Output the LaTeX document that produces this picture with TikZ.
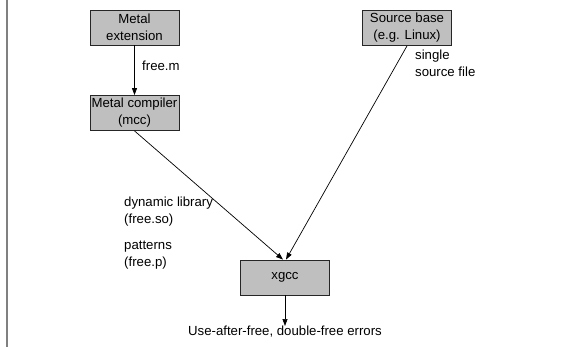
\documentclass[tikz,border=0pt]{standalone}
\usepackage{fontspec}
\setmainfont{Liberation Sans}
\usetikzlibrary{arrows.meta}

\begin{document}
\begin{tikzpicture}[x=1pt, y=-1pt]

% Define font size and box size
\def\fsize{\fontsize{13.2}{17}\selectfont}
% Define styles
\tikzset{toolbox/.style={
        draw=black!85, fill=black!25, line width=0.8pt,
        minimum width=89pt, minimum height=35pt, inner sep=0pt,
        align=center, font=\fsize},
    flow/.style={-{Triangle[length=7pt, width=5pt]}, line width=0.7pt},
    note/.style={align=left, font=\fsize, inner sep=0pt}
        }

% Page size and the grey rule on the left
\useasboundingbox (0,0) rectangle (564,347);
\draw[black!50, line width=1.6pt] (7,0) -- (7,347);

% Boxes
\node[toolbox] (ext) at (134.5, 27.5) {Metal\\extension};
\node[toolbox] (mcc) at (134.5, 113) {Metal compiler\\(mcc)};
\node[toolbox] (src) at (407, 28) {Source base\\(e.g. Linux)};
\node[toolbox] (xgcc) at (285, 277.5) {xgcc};

% Output text below xgcc
\node[note, anchor=north] (out) at (285, 326) {Use-after-free, double-free errors};

% Arrows
\draw[flow] (ext) -- (mcc);
\draw[flow] (mcc.south) -- ([xshift=-2pt]xgcc.north);
\draw[flow] (src.south) -- ([xshift=1pt]xgcc.north);
\draw[flow] (xgcc) -- (out);

% Labels
\node[note, anchor=west] (freem) at (142, 66) {free.m};
\node[note, anchor=north west] (single) at (415, 50) {single\\source file};
\node[note, anchor=north west] (dynlib) at (124, 197) {dynamic library\\(free.so)};
\node[note, anchor=north west] (pat) at (124, 241) {patterns\\(free.p)};

\end{tikzpicture}
\end{document}
